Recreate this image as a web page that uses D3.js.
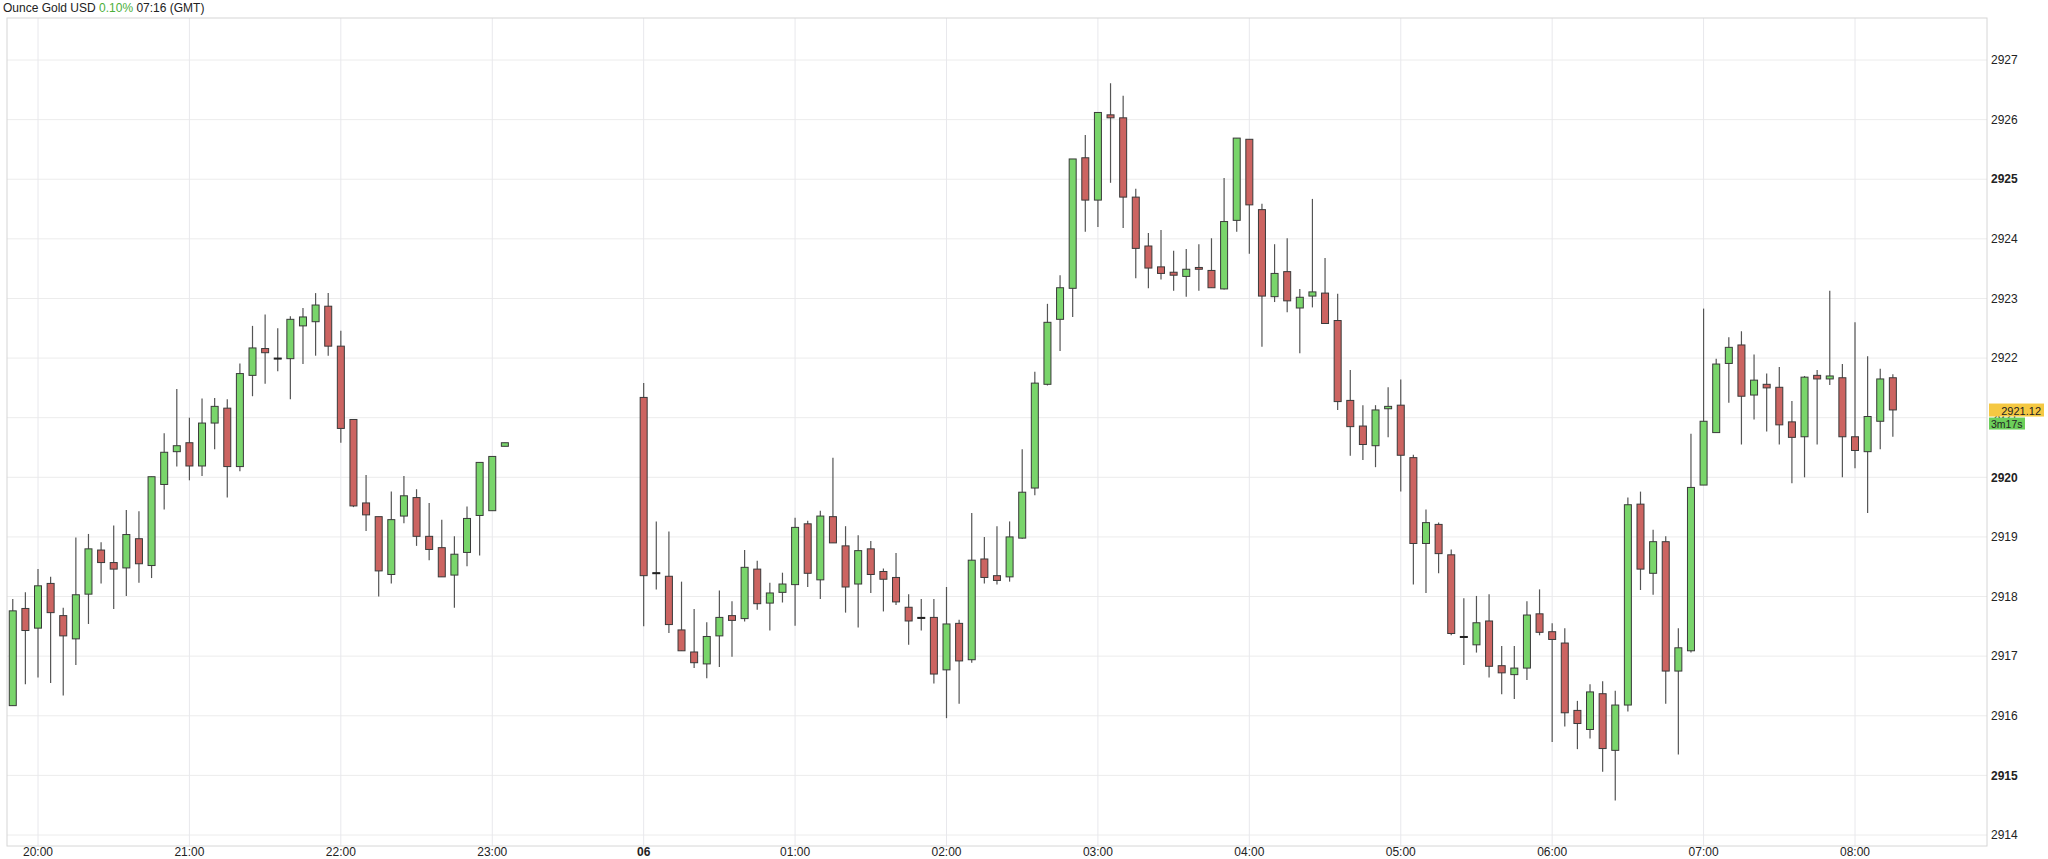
<!DOCTYPE html>
<html><head><meta charset="utf-8">
<script src="https://cdn.jsdelivr.net/npm/d3@7"></script>
<style>body{margin:0;background:#fff;}svg{display:block;font-family:"Liberation Sans",Arial,sans-serif;}</style>
</head><body><svg id="c" width="2048" height="859"></svg>
<script>
const times = ["19:50","19:55","20:00","20:05","20:10","20:15","20:20","20:25","20:30","20:35","20:40","20:45","20:50","20:55",
"21:00","21:05","21:10","21:15","21:20","21:25","21:30","21:35","21:40","21:45","21:50","21:55",
"22:00","22:05","22:10","22:15","22:20","22:25","22:30","22:35","22:40","22:45","22:50","22:55","23:00","23:05",
"00:00","00:05","00:10","00:15","00:20","00:25","00:30","00:35","00:40","00:45","00:50","00:55",
"01:00","01:05","01:10","01:15","01:20","01:25","01:30","01:35","01:40","01:45","01:50","01:55",
"02:00","02:05","02:10","02:15","02:20","02:25","02:30","02:35","02:40","02:45","02:50","02:55",
"03:00","03:05","03:10","03:15","03:20","03:25","03:30","03:35","03:40","03:45","03:50","03:55",
"04:00","04:05","04:10","04:15","04:20","04:25","04:30","04:35","04:40","04:45","04:50","04:55",
"05:00","05:05","05:10","05:15","05:20","05:25","05:30","05:35","05:40","05:45","05:50","05:55",
"06:00","06:05","06:10","06:15","06:20","06:25","06:30","06:35","06:40","06:45","06:50","06:55",
"07:00","07:05","07:10","07:15","07:20","07:25","07:30","07:35","07:40","07:45","07:50","07:55",
"08:00","08:05","08:10","08:15"];
const open = [2916.17,2917.80,2917.47,2918.22,2917.68,2917.29,2918.04,2918.78,2918.57,2918.48,2918.97,2918.52,2919.88,2920.43,
2920.58,2920.19,2920.91,2921.16,2920.18,2921.71,2922.16,2922.00,2921.99,2922.54,2922.61,2922.87,
2922.20,2920.97,2919.57,2919.34,2918.37,2919.35,2919.66,2919.01,2918.82,2918.36,2918.74,2919.36,2919.44,2920.52,
2921.34,2918.40,2918.34,2917.44,2917.07,2916.87,2917.34,2917.68,2917.63,2918.46,2917.89,2918.07,
2918.20,2919.22,2918.28,2919.34,2918.85,2918.21,2918.80,2918.42,2918.32,2917.82,2917.65,2917.65,
2916.77,2917.55,2916.94,2918.63,2918.35,2918.33,2918.98,2919.82,2921.56,2922.65,2923.17,2925.36,
2924.65,2926.08,2926.03,2924.70,2923.88,2923.53,2923.44,2923.37,2923.52,2923.47,2923.16,2924.31,
2925.67,2924.49,2923.03,2923.45,2922.84,2923.04,2923.09,2922.63,2921.29,2920.86,2920.53,2921.15,
2921.21,2920.33,2918.89,2919.21,2918.70,2917.33,2917.19,2917.59,2916.84,2916.69,2916.80,2917.71,
2917.41,2917.22,2916.09,2915.77,2916.37,2915.42,2916.18,2919.55,2918.39,2918.92,2916.75,2917.09,
2919.87,2920.75,2921.91,2922.22,2921.38,2921.56,2921.51,2920.93,2920.68,2921.71,2921.65,2921.67,
2920.68,2920.43,2920.94,2921.67];
const high = [2917.96,2918.07,2918.46,2918.33,2917.81,2918.99,2919.05,2918.91,2919.19,2919.45,2919.43,2920.01,2920.74,2921.48,
2921.00,2921.32,2921.33,2921.31,2921.91,2922.54,2922.73,2922.50,2922.70,2922.84,2923.09,2923.09,
2922.46,2920.97,2920.04,2919.34,2919.76,2920.02,2919.80,2919.57,2919.29,2919.01,2919.51,2920.25,2920.35,2920.58,
2921.58,2919.26,2919.09,2918.25,2917.79,2917.57,2918.10,2917.92,2918.78,2918.60,2918.23,2918.40,
2919.32,2919.27,2919.44,2920.33,2919.18,2919.03,2918.93,2918.47,2918.73,2918.04,2917.96,2917.96,
2918.16,2917.61,2919.40,2919.00,2919.18,2919.26,2920.47,2921.77,2922.91,2923.39,2925.34,2925.74,
2926.12,2926.61,2926.40,2924.84,2924.10,2924.15,2923.80,2923.83,2923.91,2924.01,2925.02,2925.69,
2925.67,2924.59,2923.91,2924.01,2923.16,2924.67,2923.68,2923.08,2921.80,2921.21,2921.21,2921.51,
2921.64,2920.38,2919.46,2919.24,2918.79,2917.97,2918.01,2918.04,2917.17,2917.17,2917.92,2918.12,
2917.55,2917.47,2916.25,2916.53,2916.58,2916.42,2919.66,2919.76,2919.12,2919.01,2917.47,2920.73,
2922.83,2921.99,2922.35,2922.45,2922.06,2921.74,2921.85,2921.28,2921.70,2921.80,2923.13,2921.90,
2922.60,2922.03,2921.82,2921.73];
const low = [2916.17,2916.53,2916.64,2916.55,2916.34,2916.85,2917.54,2918.22,2917.79,2918.01,2918.23,2918.31,2919.46,2920.18,
2919.95,2920.02,2920.47,2919.66,2920.10,2921.36,2921.57,2921.78,2921.31,2921.90,2922.04,2922.04,
2920.58,2919.50,2919.10,2918.00,2918.22,2919.23,2918.85,2918.61,2918.33,2917.81,2918.51,2918.69,2919.44,2920.52,
2917.50,2918.12,2917.39,2917.09,2916.80,2916.63,2916.82,2916.99,2917.58,2917.78,2917.43,2917.90,
2917.51,2918.16,2917.96,2918.90,2917.73,2917.48,2918.06,2917.75,2917.86,2917.19,2917.43,2916.54,
2915.96,2916.20,2916.89,2918.22,2918.20,2918.25,2918.97,2919.70,2921.54,2922.12,2922.69,2924.12,
2924.20,2924.94,2924.18,2923.34,2923.17,2923.32,2923.13,2923.03,2923.13,2923.18,2923.15,2924.12,
2923.75,2922.19,2922.94,2922.77,2922.08,2922.85,2922.58,2921.13,2920.36,2920.29,2920.17,2920.67,
2919.76,2918.20,2918.06,2918.39,2917.35,2916.85,2917.06,2916.64,2916.36,2916.28,2916.60,2917.35,
2915.56,2915.82,2915.44,2915.62,2915.06,2914.58,2916.07,2918.11,2918.03,2916.20,2915.35,2917.06,
2919.87,2920.75,2921.25,2920.55,2920.97,2920.77,2920.55,2919.90,2920.00,2920.55,2921.55,2920.00,
2920.15,2919.40,2920.47,2920.68];
const close = [2917.76,2917.43,2918.18,2917.73,2917.34,2918.03,2918.80,2918.57,2918.46,2919.04,2918.55,2920.01,2920.42,2920.53,
2920.19,2920.91,2921.19,2920.18,2921.74,2922.17,2922.09,2922.00,2922.65,2922.69,2922.89,2922.20,
2920.82,2919.52,2919.37,2918.43,2919.29,2919.69,2919.01,2918.79,2918.33,2918.71,2919.31,2920.25,2920.35,2920.58,
2918.35,2918.40,2917.53,2917.09,2916.89,2917.33,2917.65,2917.60,2918.49,2917.88,2918.06,2918.21,
2919.16,2918.39,2919.35,2918.90,2918.16,2918.77,2918.37,2918.29,2917.91,2917.59,2917.65,2916.70,
2917.54,2916.92,2918.61,2918.32,2918.27,2919.00,2919.75,2921.58,2922.60,2923.18,2925.34,2924.65,
2926.12,2926.03,2924.70,2923.84,2923.51,2923.42,2923.39,2923.49,2923.49,2923.18,2924.29,2925.69,
2924.57,2923.04,2923.42,2922.96,2923.02,2923.11,2922.58,2921.27,2920.85,2920.55,2921.13,2921.19,
2920.37,2918.89,2919.24,2918.72,2917.38,2917.33,2917.56,2916.83,2916.72,2916.80,2917.69,2917.40,
2917.28,2916.05,2915.87,2916.40,2915.45,2916.18,2919.54,2918.46,2918.92,2916.75,2917.14,2919.83,
2920.94,2921.90,2922.18,2921.36,2921.63,2921.50,2920.88,2920.67,2921.68,2921.65,2921.70,2920.68,
2920.45,2921.02,2921.65,2921.13];
const yTicks = [2914,2915,2916,2917,2918,2919,2920,2921,2922,2923,2924,2925,2926,2927];
const boldTicks = [2915,2920,2925];
const lastPrice = 2921.12;
const countdown = "3m17s";
const title = ["Ounce Gold USD ", "0.10%", " 07:16 (GMT)"];

const parse = s => { const [h,m] = s.split(":").map(Number); return new Date(Date.UTC(2025,2,h>=12?5:6,h,m)); };
const data = times.map((t,i)=>({t:parse(t),o:open[i],h:high[i],l:low[i],c:close[i]}));

const L=7,T=18,R=1987,B=846;
const x = d3.scaleUtc().domain([new Date(Date.UTC(2025,2,5,20)), new Date(Date.UTC(2025,2,6,8))]).range([38,1855]);
const y = d3.scaleLinear().domain([2914,2927]).range([835,60]);
const svg = d3.select("#c");

const hourTicks = d3.utcHour.range(new Date(Date.UTC(2025,2,5,20)), new Date(Date.UTC(2025,2,6,8,1)));
svg.append("g").selectAll("line").data(yTicks).join("line")
  .attr("x1",L).attr("x2",R).attr("y1",d=>y(d)).attr("y2",d=>y(d)).attr("stroke","#ececec");
svg.append("g").selectAll("line").data(hourTicks).join("line")
  .attr("x1",d=>x(d)).attr("x2",d=>x(d)).attr("y1",T).attr("y2",B).attr("stroke","#e8e8ec");
svg.append("rect").attr("x",L).attr("y",T).attr("width",R-L).attr("height",B-T).attr("fill","none").attr("stroke","#d6d6d6");

const g = svg.append("g");
const bw = 7;
g.selectAll("line").data(data).join("line")
  .attr("x1",d=>x(d.t)).attr("x2",d=>x(d.t)).attr("y1",d=>y(d.h)).attr("y2",d=>y(d.l))
  .attr("stroke","#555").attr("stroke-width",1.2);
g.selectAll("rect").data(data).join("rect")
  .attr("x",d=>x(d.t)-bw/2).attr("width",bw)
  .attr("y",d=>y(Math.max(d.o,d.c)))
  .attr("height",d=>Math.max(1,Math.abs(y(d.o)-y(d.c))))
  .attr("fill",d=>d.c>d.o?"#79d56b":d.c<d.o?"#cc6461":"#222")
  .attr("stroke",d=>d.c===d.o?"#222":"#3a3a3a").attr("stroke-width",1);

svg.append("g").selectAll("text").data(yTicks).join("text")
  .attr("x",1991).attr("y",d=>y(d)).attr("dy","0.35em").attr("font-size",12)
  .attr("font-weight",d=>boldTicks.includes(d)?"bold":"normal").attr("fill","#222").text(d=>d);

svg.append("g").selectAll("text").data(hourTicks).join("text")
  .attr("x",d=>x(d)).attr("y",856).attr("text-anchor","middle").attr("font-size",12)
  .attr("font-weight",d=>d.getUTCHours()===0?"bold":"normal").attr("fill","#222")
  .text(d=>d.getUTCHours()===0?d3.utcFormat("%d")(d):d3.utcFormat("%H:%M")(d));

const py = y(lastPrice);
svg.append("rect").attr("x",1989).attr("y",py-7).attr("width",55).attr("height",13).attr("fill","#f5c842");
svg.append("text").attr("x",2041).attr("y",py+4).attr("text-anchor","end").attr("font-size",11).attr("fill","#222").text(lastPrice.toFixed(2));
svg.append("rect").attr("x",1989).attr("y",py+7).attr("width",36).attr("height",12).attr("fill","#6ccf5a");
svg.append("text").attr("x",1991).attr("y",py+17).attr("font-size",10.5).attr("fill","#222").text(countdown);

const tt = svg.append("text").attr("x",3).attr("y",12).attr("font-size",12).attr("fill","#222");
tt.append("tspan").text(title[0]);
tt.append("tspan").attr("fill","#4caf3a").text(title[1]);
tt.append("tspan").text(title[2]);
</script></body></html>
